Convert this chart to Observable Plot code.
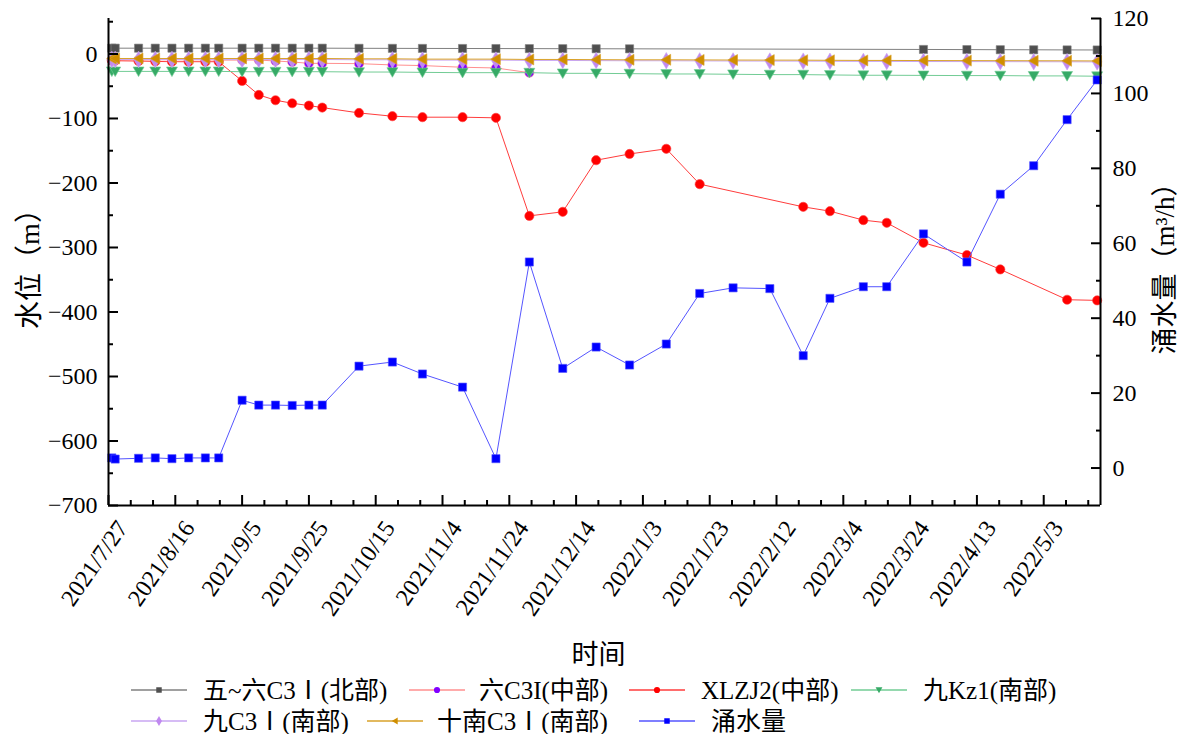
<!DOCTYPE html>
<html><head><meta charset="utf-8">
<script src="https://cdn.jsdelivr.net/npm/d3@7"></script>
<script src="https://cdn.jsdelivr.net/npm/@observablehq/plot@0.6"></script>
<style>
body{margin:0;background:#fff;width:1188px;height:734px;overflow:hidden;}
#chart svg{display:block;}
#legend{display:block;}
</style></head><body>
<div id="chart"></div>
<svg id="legend" width="1188" height="64"></svg>
<script>
// ---------------- data ----------------
const dates = ["2021-07-28","2021-07-29","2021-08-05","2021-08-10","2021-08-15","2021-08-20","2021-08-25","2021-08-29","2021-09-05","2021-09-10","2021-09-15","2021-09-20","2021-09-25","2021-09-29","2021-10-10","2021-10-20","2021-10-29","2021-11-10","2021-11-20","2021-11-30","2021-12-10","2021-12-20","2021-12-30","2022-01-10","2022-01-20","2022-01-30","2022-02-10","2022-02-20","2022-02-28","2022-03-10","2022-03-17","2022-03-28","2022-04-10","2022-04-20","2022-04-30","2022-05-10","2022-05-19"];

const names = ["五~六C3Ⅰ(北部)","六C3I(中部)","XLZJ2(中部)","九Kz1(南部)","九C3Ⅰ(南部)","十南C3Ⅰ(南部)","涌水量"];

const wuLiuNorth = [9,9,9,9,9,9,9,9,9,9,9,9,9,9,8.8,8.7,8.6,8.5,8.4,8.3,8.2,8.1,8.0,null,null,null,null,null,null,null,null,7.0,6.8,6.6,6.5,6.3,6.2];
const liuC3IMid = [-9,-9,-9,-9,-9,-9,-9,-9.5,-9.5,-9.5,-10.8,-12.4,-14.5,-14.5,-15,-17,-18,-20.6,-21.7,-29,null,null,null,null,null,null,null,null,null,null,null,null,null,null,null,null,null];
const xlzj2Mid = [-10,-10.5,-11,-11.5,-12,-12,-12,-12,-41.8,-63.5,-71.7,-76.4,-80,-83.1,-91.4,-96.5,-98,-98,-99,-251,-244.7,-164.7,-155,-147,-201.8,null,null,-237,-243.7,-257.6,-261.7,-292.7,-311.8,-334,null,-381,-382];
const jiuKz1South = [-27,-27,-27,-27,-27,-27,-27,-27,-27.5,-27.5,-27.5,-27.5,-27.5,-27.5,-28,-28,-28.5,-29,-29,-29,-30,-30,-30.5,-31,-31,-31.5,-32,-32,-32.5,-33,-33,-33.2,-33.5,-33.5,-34,-34,-34.5];
const jiuC3South = [-8.5,-8.5,-8.5,-8.5,-8.5,-8.5,-8.5,-8.5,-8.5,-8.5,-8.5,-8.5,-8.5,-8.5,-9,-9,-9.5,-9.5,-9.5,-10,-10,-10.3,-10.5,-10.5,-10.7,-10.9,-11,-11.1,-11.3,-11.5,-11.5,-11.7,-11.8,-11.9,-12,-12.1,-12.3];
const shiNanC3South = [-7,-7,-7,-7,-7,-7,-7,-7,-7,-7,-7,-7,-7,-7,-7.5,-7.5,-8,-8,-8,-8.5,-8.5,-8.8,-9,-9,-9.2,-9.4,-9.5,-9.6,-9.8,-10,-10,-10.2,-10.3,-10.4,-10.5,-10.6,-10.8];
const inflow = [2.7,2.4,2.6,2.7,2.5,2.7,2.7,2.7,18.1,16.8,16.8,16.7,16.8,16.8,27.2,28.3,25.1,21.6,2.5,55.0,26.6,32.3,27.5,33.1,46.6,48.1,47.9,30.0,45.3,48.4,48.4,62.5,55.0,73.1,80.7,93.0,103.6];

const leftTicks = [-700,-600,-500,-400,-300,-200,-100,0];
const rightTicks = [0,20,40,60,80,100,120];

// ---------------- setup ----------------
const parse = s => new Date(s + "T00:00:00Z");
const X = dates.map(parse);
const x0 = parse("2021-07-27"), x1 = parse("2022-05-20");
const yL = [-700, 55], yR = [-10, 120];
const toLeft = v => yL[0] + (v - yR[0]) * (yL[1] - yL[0]) / (yR[1] - yR[0]);
const fromLeft = u => yR[0] + (u - yL[0]) * (yR[1] - yR[0]) / (yL[1] - yL[0]);
const rows = (vals, f) => X.map((d, i) => ({x: d, y: vals[i] == null ? null : f(vals[i])})).filter(r => r.y != null);

const triDown = {draw(ctx, size) { const h = Math.sqrt(size) * 0.62; ctx.moveTo(-h, -h * 0.8); ctx.lineTo(h, -h * 0.8); ctx.lineTo(0, h * 0.95); ctx.closePath(); }};
const triLeft = {draw(ctx, size) { const h = Math.sqrt(size) * 0.62; ctx.moveTo(-h * 0.95, 0); ctx.lineTo(h * 0.8, -h); ctx.lineTo(h * 0.8, h); ctx.closePath(); }};

const series = [
  {vals: wuLiuNorth, f: v => v, line: "#808080", fill: "#4f4f4f", sym: "square", d3sym: d3.symbolSquare, r: 4.6},
  {vals: liuC3IMid, f: v => v, line: "#ff8f8f", fill: "#8000ff", sym: "circle", d3sym: d3.symbolCircle, r: 4.6},
  {vals: xlzj2Mid, f: v => v, line: "#ff3c3c", fill: "#ff0000", sym: "circle", d3sym: d3.symbolCircle, r: 4.6},
  {vals: jiuKz1South, f: v => v, line: "#72cc95", fill: "#36aa66", sym: triDown, d3sym: triDown, r: 5},
  {vals: jiuC3South, f: v => v, line: "#c9a6f2", fill: "#c088f0", sym: "diamond", d3sym: d3.symbolDiamond, r: 5},
  {vals: shiNanC3South, f: v => v, line: "#d9a22a", fill: "#d08e00", sym: triLeft, d3sym: triLeft, r: 5},
  {vals: inflow, f: toLeft, line: "#5555ff", fill: "#0000ff", sym: "square", d3sym: d3.symbolSquare, r: 4.6}
];

const majorX = d3.range(0, 297, 20).map(i => d3.utcDay.offset(x0, i));
const minorX = d3.range(0, 297, 20 / 3).filter((_, i) => i % 3).map(i => new Date(+x0 + i * 864e5));
const fmtDate = d => `${d.getUTCFullYear()}/${d.getUTCMonth() + 1}/${d.getUTCDate()}`;
const fontSerif = '"Liberation Serif","Noto Sans CJK SC",serif';

const dataMarks = [];
for (const s of series) {
  const data = rows(s.vals, s.f);
  dataMarks.push(Plot.line(data, {x: "x", y: "y", stroke: s.line, strokeWidth: 1}));
  dataMarks.push(Plot.dot(data, {x: "x", y: "y", symbol: s.sym, r: s.r, fill: s.fill, stroke: s.line, strokeWidth: 0.6}));
}

const plot = Plot.plot({
  width: 1188, height: 670,
  marginLeft: 108, marginRight: 88, marginTop: 18, marginBottom: 165,
  style: {fontFamily: fontSerif, fontSize: "24px", color: "black", background: "white", overflow: "visible"},
  x: {type: "utc", domain: [x0, x1], label: null},
  y: {domain: yL, label: null},
  marks: [
    ...dataMarks,
    Plot.ruleY([yL[0]], {stroke: "black", strokeWidth: 2}),
    Plot.ruleX([x0], {stroke: "black", strokeWidth: 2}),
    Plot.ruleX([x1], {stroke: "black", strokeWidth: 2}),
    Plot.axisX({ticks: majorX, tickSize: -10, strokeWidth: 2, tickFormat: () => "", label: null}),
    Plot.axisX({ticks: minorX, tickSize: -5, strokeWidth: 2, tickFormat: () => "", label: null}),
    Plot.axisY({ticks: leftTicks, tickSize: -10, strokeWidth: 2, tickPadding: 21, fontSize: 24, tickFormat: d => d < 0 ? "\u2212" + (-d) : String(d), label: null}),
    Plot.axisY({ticks: d3.range(-650, 55, 100), tickSize: -5, strokeWidth: 2, tickFormat: () => "", label: null}),
    Plot.axisY({anchor: "right", ticks: rightTicks.map(toLeft), tickSize: -10, strokeWidth: 2, tickPadding: 22, fontSize: 24, tickFormat: u => String(Math.round(fromLeft(u))), label: null}),
    Plot.axisY({anchor: "right", ticks: d3.range(10, 111, 20).map(toLeft), tickSize: -5, strokeWidth: 2, tickFormat: () => "", label: null}),
    Plot.text(majorX, {x: d => d, y: yL[0], text: fmtDate, rotate: -55, textAnchor: "end", lineAnchor: "middle", dx: 14, dy: 18, fontSize: 24, ariaLabel: "datelabels"}),
    Plot.text(["水位（m）"], {frameAnchor: "left", dx: -78, rotate: -90, fontSize: 28, lineAnchor: "middle", textAnchor: "middle"}),
    Plot.text(["涌水量（m³/h）"], {frameAnchor: "right", dx: 65, rotate: -90, fontSize: 27, lineAnchor: "middle", textAnchor: "middle"}),
    Plot.text(["时间"], {frameAnchor: "bottom", dx: -6, dy: 150, fontSize: 27, lineAnchor: "middle"})
  ]
});
document.getElementById("chart").appendChild(plot);
d3.select(plot).selectAll('[aria-label="datelabels"] text').attr("letter-spacing", "3px");

// ---------------- legend ----------------
const legendItems = [
  {row: 0, lx: 131, tx: 203, s: 0}, {row: 0, lx: 409, tx: 479, s: 1}, {row: 0, lx: 629, tx: 701, s: 2}, {row: 0, lx: 851, tx: 923, s: 3},
  {row: 1, lx: 131, tx: 203, s: 4}, {row: 1, lx: 367, tx: 437, s: 5}, {row: 1, lx: 639, tx: 711, s: 6}
];
const rowY = [20, 51];
const lg = d3.select("#legend");
for (const it of legendItems) {
  const s = series[it.s], y = rowY[it.row];
  lg.append("line").attr("x1", it.lx).attr("x2", it.lx + 56).attr("y1", y).attr("y2", y).attr("stroke", s.line).attr("stroke-width", 1.5);
  lg.append("path").attr("transform", `translate(${it.lx + 28},${y})`).attr("d", d3.symbol().type(s.d3sym).size(30)()).attr("fill", s.fill);
  lg.append("text").attr("x", it.tx).attr("y", y + 9).attr("font-family", fontSerif).attr("font-size", 25).attr("fill", "black").text(names[it.s]);
}
</script>
</body></html>
